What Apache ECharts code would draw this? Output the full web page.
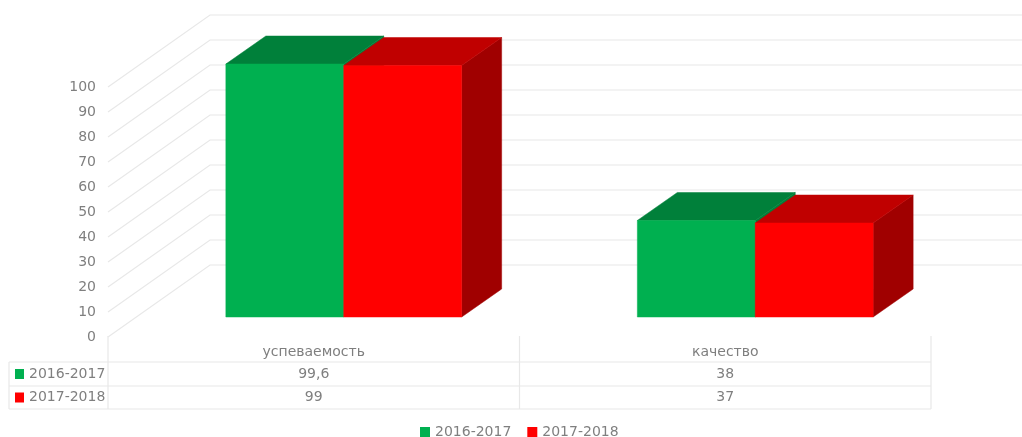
<!DOCTYPE html>
<html>
<head>
<meta charset="utf-8">
<title>chart</title>
<script src="https://cdn.jsdelivr.net/npm/echarts@6/dist/echarts.min.js"></script>
<style>
html, body { margin: 0; padding: 0; background: #fff; }
#main { width: 1022px; height: 437px; }
</style>
</head>
<body>
<div id="main"></div>
<script>
var categories = ['успеваемость', 'качество'];
var seriesNames = ['2016-2017', '2017-2018'];
var values2016 = [99.6, 38];
var values2017 = [99, 37];
var yTicks = [0, 10, 20, 30, 40, 50, 60, 70, 80, 90, 100];

var fontName = '"DejaVu Sans"';
var textColor = '#7f7f7f';
var lineColor = '#e8e8e8';

// front, top and side colours of each bar
var faces = [
    { front: '#00b050', top: '#00803a', side: '#00803a' },
    { front: '#ff0000', top: '#c00000', side: '#a00000' }
];

var depthX = 40, depthY = -28;   // bar depth
var wallX = 102, wallY = -72;    // wall depth

var tableLeft = 9, tableMid = 108, tableRight = 931;
var rowY = [362, 386, 409];
var tableTop = 336;

function makeData(arr) {
    return arr.map(function (v, i) { return [i, v]; });
}

function renderWall(params, api) {
    var p = api.coord([0, api.value(1)]);
    var x = params.coordSys.x, w = params.coordSys.width;
    return {
        type: 'polyline',
        silent: true,
        shape: { points: [[x, p[1]], [x + wallX, p[1] + wallY], [x + wallX + w, p[1] + wallY]] },
        style: { stroke: lineColor, lineWidth: 1.2, fill: null }
    };
}

function makeBar(serie) {
    return function (params, api) {
        var top = api.coord([api.value(0), api.value(1)]);
        var bottom = api.coord([api.value(0), 0]);
        var band = api.size([1, 0])[0];
        var w = band * 0.2865;
        var x0 = top[0] + (serie - 1) * w;
        var x1 = x0 + w;
        var f = faces[serie];
        return {
            type: 'group',
            children: [
                { type: 'polygon', shape: { points: [[x1, top[1]], [x1 + depthX, top[1] + depthY], [x1 + depthX, bottom[1] + depthY], [x1, bottom[1]]] }, style: { fill: f.side, stroke: f.side, lineWidth: 0.5 } },
                { type: 'polygon', shape: { points: [[x0, top[1]], [x1, top[1]], [x1 + depthX, top[1] + depthY], [x0 + depthX, top[1] + depthY]] }, style: { fill: f.top, stroke: f.top, lineWidth: 0.5 } },
                { type: 'rect', shape: { x: x0, y: top[1], width: w, height: bottom[1] - top[1] }, style: { fill: f.front, stroke: f.front, lineWidth: 0.5 } }
            ]
        };
    };
}

function tableGraphics() {
    var items = [];
    function line(x1, y1, x2, y2) {
        items.push({ type: 'line', shape: { x1: x1, y1: y1, x2: x2, y2: y2 }, style: { stroke: lineColor, lineWidth: 1.2 } });
    }
    var colWidth = (tableRight - tableMid) / categories.length;
    rowY.forEach(function (y) { line(tableLeft, y, tableRight, y); });
    line(tableLeft, rowY[0], tableLeft, rowY[2]);
    for (var c = 0; c <= categories.length; c++) {
        line(tableMid + c * colWidth, tableTop, tableMid + c * colWidth, rowY[2]);
    }
    [values2016, values2017].forEach(function (vals, r) {
        var cy = (rowY[r] + rowY[r + 1]) / 2;
        items.push({ type: 'rect', shape: { x: 15, y: cy - 5, width: 9, height: 10 }, style: { fill: faces[r].front } });
        items.push({ type: 'text', x: 29, y: cy, style: { text: seriesNames[r], fill: textColor, font: '14px ' + fontName, textAlign: 'left', textVerticalAlign: 'middle' } });
        vals.forEach(function (v, c) {
            items.push({ type: 'text', x: tableMid + (c + 0.5) * colWidth, y: cy, style: { text: String(v).replace('.', ','), fill: textColor, font: '14px ' + fontName, textAlign: 'center', textVerticalAlign: 'middle' } });
        });
    });
    return items;
}

var myChart = echarts.init(document.getElementById('main'));

var option = {
    animation: false,
    backgroundColor: '#fff',
    textStyle: { fontFamily: fontName },
    legend: {
        data: seriesNames,
        left: 420,
        top: 425,
        padding: 0,
        itemWidth: 10,
        itemHeight: 10,
        itemGap: 16,
        icon: 'rect',
        textStyle: { color: textColor, fontSize: 14, fontFamily: fontName }
    },
    grid: [
        { left: 108, top: 87, width: 823, height: 250 },
        { left: 138, top: 63, width: 823, height: 254 }
    ],
    xAxis: [
        { type: 'category', gridIndex: 0, data: categories, axisLine: { show: false }, axisTick: { show: false },
          axisLabel: { color: textColor, fontSize: 14, margin: 8, fontFamily: fontName } },
        { type: 'category', gridIndex: 1, data: categories, show: false }
    ],
    yAxis: [
        { type: 'value', gridIndex: 0, min: 0, max: 100, interval: 10, axisLine: { show: false }, axisTick: { show: false }, splitLine: { show: false },
          axisLabel: { color: textColor, fontSize: 14, margin: 12, fontFamily: fontName } },
        { type: 'value', gridIndex: 1, min: 0, max: 100, show: false, splitLine: { show: false } }
    ],
    series: [
        { type: 'custom', name: 'wall', xAxisIndex: 0, yAxisIndex: 0, clip: false, silent: true, z: 1, renderItem: renderWall,
          data: yTicks.map(function (t) { return [0, t]; }) },
        { type: 'custom', name: seriesNames[0], xAxisIndex: 1, yAxisIndex: 1, clip: false, z: 2, renderItem: makeBar(0),
          itemStyle: { color: faces[0].front }, data: makeData(values2016) },
        { type: 'custom', name: seriesNames[1], xAxisIndex: 1, yAxisIndex: 1, clip: false, z: 3, renderItem: makeBar(1),
          itemStyle: { color: faces[1].front }, data: makeData(values2017) }
    ],
    graphic: tableGraphics()
};

myChart.setOption(option);
</script>
</body>
</html>
